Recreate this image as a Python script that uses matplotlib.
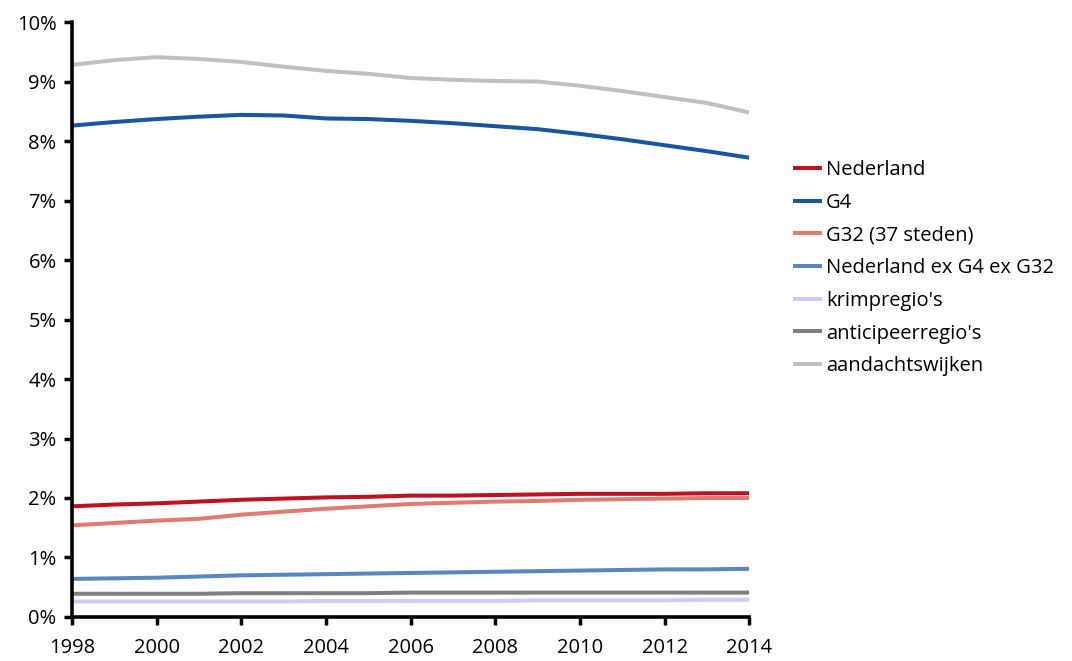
import matplotlib.pyplot as plt
from matplotlib.ticker import PercentFormatter

plt.rcParams['font.family'] = ['Open Sans', 'DejaVu Sans']

years = list(range(1998, 2015))

# share of population (%)
nederland = [1.86, 1.89, 1.91, 1.94, 1.97, 1.99, 2.01, 2.02, 2.04, 2.04, 2.05, 2.06, 2.07, 2.07, 2.07, 2.08, 2.08]
g4 = [8.26, 8.32, 8.37, 8.41, 8.44, 8.43, 8.38, 8.37, 8.34, 8.30, 8.25, 8.20, 8.12, 8.03, 7.93, 7.83, 7.72]
g32 = [1.54, 1.58, 1.62, 1.65, 1.72, 1.77, 1.82, 1.86, 1.90, 1.92, 1.94, 1.95, 1.97, 1.98, 1.99, 2.00, 2.00]
ned_ex = [0.64, 0.65, 0.66, 0.68, 0.70, 0.71, 0.72, 0.73, 0.74, 0.75, 0.76, 0.77, 0.78, 0.79, 0.80, 0.80, 0.81]
krimp = [0.26, 0.26, 0.26, 0.26, 0.26, 0.26, 0.27, 0.27, 0.27, 0.27, 0.27, 0.28, 0.28, 0.28, 0.28, 0.29, 0.29]
anticipeer = [0.39, 0.39, 0.39, 0.39, 0.40, 0.40, 0.40, 0.40, 0.41, 0.41, 0.41, 0.41, 0.41, 0.41, 0.41, 0.41, 0.41]
aandacht = [9.28, 9.36, 9.41, 9.38, 9.33, 9.25, 9.18, 9.13, 9.06, 9.03, 9.01, 9.00, 8.93, 8.84, 8.74, 8.64, 8.48]

series = [
    ("Nederland", nederland, "#c0111f"),
    ("G4", g4, "#1a56a0"),
    ("G32 (37 steden)", g32, "#e07b6f"),
    ("Nederland ex G4 ex G32", ned_ex, "#5b87c0"),
    ("krimpregio's", krimp, "#ccccff"),
    ("anticipeerregio's", anticipeer, "#808080"),
    ("aandachtswijken", aandacht, "#c0c0c0"),
]

fig = plt.figure(figsize=(10.72, 6.61), dpi=100)
ax = fig.add_axes([0.067, 0.0666, 0.632, 0.9])

for name, vals, col in series:
    ax.plot(years, vals, color=col, lw=2.9, label=name, solid_capstyle='butt')

ax.set_xlim(1998, 2014)
ax.set_ylim(0, 10)
ax.set_xticks(range(1998, 2015, 2))
ax.set_yticks(range(0, 11))
ax.yaxis.set_major_formatter(PercentFormatter(decimals=0))
ax.tick_params(labelsize=14.5, width=2.5, length=6, direction='out', pad=5)
ax.tick_params(axis='x', pad=9)

for s in ['top', 'right']:
    ax.spines[s].set_visible(False)
for s in ['left', 'bottom']:
    ax.spines[s].set_linewidth(2.6)

fig.legend(loc='upper left', bbox_to_anchor=(0.732, 0.77), frameon=False,
           fontsize=14.5, handlelength=1.45, handletextpad=0.2, labelspacing=0.63,
           borderaxespad=0)

fig.savefig("out.png", dpi=100)
